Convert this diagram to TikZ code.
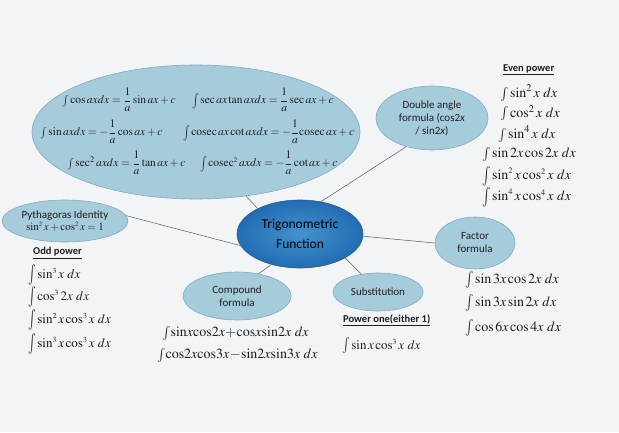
\documentclass[tikz,border=0pt]{standalone}
\usepackage{mathptmx}
\usepackage[no-math]{fontspec}
\setmainfont{Liberation Serif}
\newfontfamily\calib{Carlito}
\usetikzlibrary{shapes.geometric}
\newcommand{\tallint}[1]{\mathop{\vcenter{\hbox{\scalebox{1}[#1]{$\int$}}}}\nolimits}
\definecolor{bubble}{RGB}{166,203,219}
\definecolor{bubbleedge}{RGB}{128,172,194}
\definecolor{centin}{RGB}{70,146,206}
\definecolor{centout}{RGB}{34,108,178}
\definecolor{centedge}{RGB}{40,95,150}
\definecolor{paper}{RGB}{243,244,246}
\definecolor{inkc}{RGB}{30,30,30}
\begin{document}
\begin{tikzpicture}[x=1pt,y=-1pt,
  bub/.style={ellipse,draw=bubbleedge,fill=bubble,line width=0.6pt,inner sep=0pt,align=center,
    font=\calib\fontsize{11}{13}\selectfont,text=inkc},
  link/.style={draw=black!65,line width=0.5pt},
  fml/.style={inner sep=0pt,anchor=west,text=inkc,font=\fontsize{11.5}{13}\selectfont},
  bigf/.style={inner sep=0pt,anchor=west,text=inkc,font=\fontsize{14}{16}\selectfont},
  midf/.style={inner sep=0pt,anchor=west,text=inkc,font=\fontsize{13}{15}\selectfont},
  head/.style={inner sep=0pt,anchor=west,text=inkc,font=\calib\bfseries\fontsize{10.5}{12}\selectfont}]

\fill[paper] (0,0) rectangle (619,432);
\useasboundingbox (0,0) rectangle (619,432);

% ellipses
\node[bub,minimum width=328,minimum height=134] (big) at (196,132) {};
\node[bub,minimum width=112,minimum height=64] (dbl) at (432,118) {Double angle\\formula (cos2\textit{x}\\/ sin2\textit{x})};
\node[bub,minimum width=126,minimum height=42] (pyth) at (65,221) {Pythagoras Identity\\[-1pt]{\rmfamily$\sin^{\scriptscriptstyle 2} x+\cos^{\scriptscriptstyle 2} x=1$}};
\node[ellipse,draw=centedge,inner color=centin,outer color=centout,line width=0.6pt,inner sep=0pt,
  minimum width=126,minimum height=68] (cent) at (300,234) {};
\node[align=center,inner sep=0pt,font=\calib\fontsize{13.5}{20}\selectfont,text=black] (centlbl) at (cent.center) {Trigonometric\\Function};
\node[bub,minimum width=108,minimum height=48] (comp) at (237,296) {Compound\\formula};
\node[bub,minimum width=90,minimum height=38] (subs) at (378,292) {Substitution};
\node[bub,minimum width=80,minimum height=52] (fact) at (475,243) {Factor\\formula};

% connectors
\draw[link] (big.-52) -- (cent.149);
\draw[link] (dbl.228) -- (cent.57);
\draw[link] (pyth.5) -- (cent.191);
\draw[link] (cent.-2) -- (fact.west);
\draw[link] (cent.227) -- (comp.46);
\draw[link] (cent.-28) -- (subs.133);

% standard integrals in big ellipse
\node[fml] (s1) at (62,100) {$\int\cos axdx=\displaystyle\frac{1}{a}\sin ax+c$};
\node[fml] (s2) at (40,132) {$\int\sin axdx=-\displaystyle\frac{1}{a}\cos ax+c$};
\node[fml] (s3) at (67,163) {$\int\sec^2 axdx=\displaystyle\frac{1}{a}\tan ax+c$};
\node[fml] (s4) at (192,100) {$\tallint{1.35}\sec ax\tan axdx=\displaystyle\frac{1}{a}\sec ax+c$};
\node[fml] (s5) at (183,132) {$\tallint{1.35}\mathrm{cosec}\, ax\cot axdx=-\displaystyle\frac{1}{a}\mathrm{cosec}\, ax+c$};
\node[fml] (s6) at (200,163) {$\tallint{1.35}\mathrm{cosec}^{\scriptscriptstyle 2}\, axdx=-\displaystyle\frac{1}{a}\cot ax+c$};

% even power
\node[head] (evh) at (503,70) {\underline{Even power}};
\node[bigf] (e1) at (500,93) {$\int\sin^2 x\ dx$};
\node[bigf] (e2) at (500,113) {$\int\cos^2 x\ dx$};
\node[bigf] (e3) at (498,134) {$\int\sin^4 x\ dx$};
\node[bigf] (e4) at (482,154) {$\int\sin 2x\cos 2x\ dx$};
\node[bigf] (e5) at (482,176) {$\tallint{1.4}\sin^{\scriptscriptstyle 2} x\cos^{\scriptscriptstyle 2} x\ dx$};
\node[bigf] (e6) at (482,197) {$\tallint{1.4}\sin^{\scriptscriptstyle 4} x\cos^{\scriptscriptstyle 4} x\ dx$};

% odd power
\node[head] (odh) at (33,253) {\underline{Odd power}};
\node[midf] (o1) at (28,275) {$\tallint{1.6}\sin^{\scriptscriptstyle 3} x\ dx$};
\node[midf] (o2) at (28,297) {$\tallint{1.6}\cos^{\scriptscriptstyle 3} 2x\ dx$};
\node[midf] (o3) at (28,320) {$\tallint{1.6}\sin^{\scriptscriptstyle 2} x\cos^{\scriptscriptstyle 3} x\ dx$};
\node[midf] (o4) at (28,344) {$\tallint{1.6}\sin^{\scriptscriptstyle 3} x\cos^{\scriptscriptstyle 3} x\ dx$};

% compound formulas
\node[bigf] (c1) at (162,333) {$\int\!\sin\! x\!\cos\! 2x\!+\!\cos\! x\!\sin\! 2x\ dx$};
\node[bigf] (c2) at (157,355) {$\int\!\cos\! 2x\!\cos\! 3x\!-\!\sin\! 2x\!\sin\! 3x\ dx$};

% power one
\node[head] (p1h) at (343,320) {\underline{Power one(either 1)}};
\node[midf] (p1) at (342,346) {$\tallint{1.25}\sin x\cos^{\scriptscriptstyle 3} x\ dx$};

% factor formulas
\node[bigf] (f1) at (465,280) {$\tallint{1.2}\sin 3x\cos 2x\ dx$};
\node[bigf] (f2) at (465,303) {$\tallint{1.2}\sin 3x\sin 2x\ dx$};
\node[bigf] (f3) at (465,328) {$\tallint{1.2}\cos 6x\cos 4x\ dx$};
\end{tikzpicture}
\end{document}
